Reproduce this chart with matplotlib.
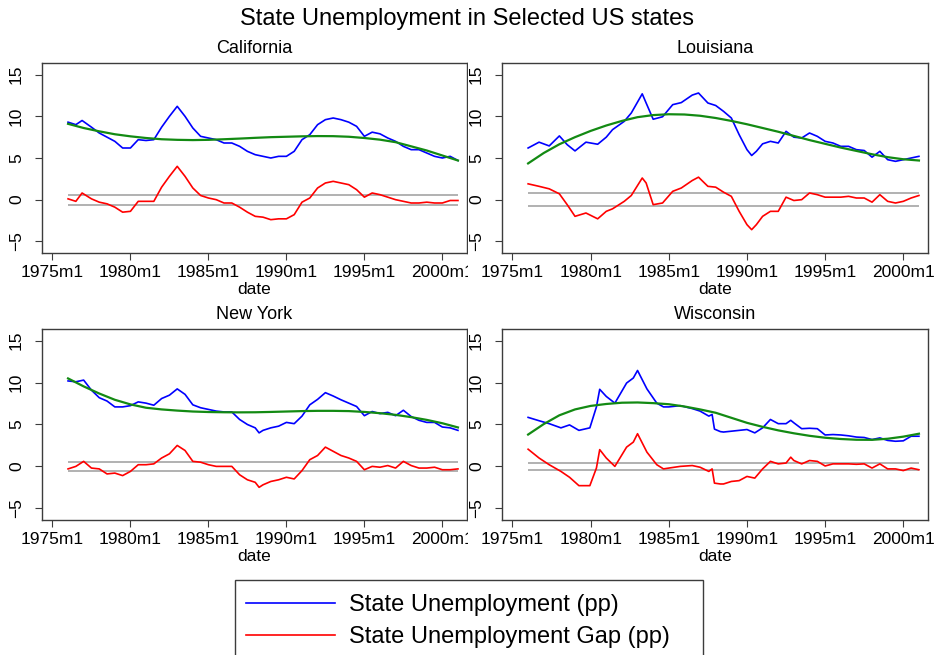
import matplotlib
matplotlib.use("Agg")
import matplotlib.pyplot as plt
from matplotlib.patches import Rectangle

plt.rcParams['font.family'] = ['Liberation Sans', 'DejaVu Sans']

# common axis things
tick_years = [1975, 1980, 1985, 1990, 1995, 2000]
tick_labels = ['1975m1', '1980m1', '1985m1', '1990m1', '1995m1', '2000m1']
trend_years = list(range(1976, 2002))

# California
ca_t = [1976, 1976.5, 1976.9, 1977.5, 1978, 1978.5, 1979, 1979.5, 1980, 1980.5,
        1981, 1981.5, 1982, 1982.5, 1983, 1983.5, 1984, 1984.5, 1985, 1985.5,
        1986, 1986.5, 1987, 1987.5, 1988, 1988.5, 1989, 1989.5, 1990, 1990.5,
        1991, 1991.5, 1992, 1992.5, 1993, 1993.5, 1994, 1994.5, 1995, 1995.5,
        1996, 1996.5, 1997, 1997.5, 1998, 1998.5, 1999, 1999.5, 2000, 2000.5, 2001]
ca_rate = [9.3, 9.0, 9.5, 8.7, 8.0, 7.5, 7.0, 6.2, 6.2, 7.2,
           7.1, 7.2, 8.7, 10.0, 11.2, 10.0, 8.6, 7.6, 7.4, 7.2,
           6.8, 6.8, 6.4, 5.8, 5.4, 5.2, 5.0, 5.2, 5.2, 5.8,
           7.2, 7.8, 9.0, 9.6, 9.8, 9.6, 9.3, 8.8, 7.6, 8.1,
           7.9, 7.4, 7.0, 6.4, 6.0, 6.0, 5.6, 5.2, 5.0, 5.2, 4.7]
ca_gap = [0.1, -0.2, 0.8, 0.1, -0.3, -0.5, -0.9, -1.5, -1.4, -0.2,
          -0.2, -0.2, 1.5, 2.8, 4.0, 2.8, 1.4, 0.5, 0.2, 0.0,
          -0.4, -0.4, -0.9, -1.5, -2.0, -2.1, -2.4, -2.3, -2.3, -1.8,
          -0.3, 0.2, 1.4, 2.0, 2.2, 2.0, 1.8, 1.2, 0.3, 0.8,
          0.6, 0.3, 0.0, -0.2, -0.4, -0.4, -0.3, -0.4, -0.4, -0.1, -0.1]
ca_trend = [9.1, 8.6, 8.2, 7.85, 7.6, 7.4, 7.25, 7.18, 7.15, 7.18, 7.25, 7.33, 7.42,
            7.5, 7.55, 7.6, 7.63, 7.62, 7.55, 7.4, 7.2, 6.9, 6.4, 5.9, 5.3, 4.7]
ca_band = 0.6

# Louisiana
la_t = [1976, 1976.7, 1977.35, 1978.0, 1978.5, 1979.0, 1979.7, 1980.45, 1981.0, 1981.4,
        1982.15, 1982.6, 1983.3, 1983.55, 1984.0, 1984.6, 1985.25, 1985.8, 1986.5, 1986.9,
        1987.5, 1988.0, 1988.5, 1989.0, 1989.5, 1990.0, 1990.3, 1990.6, 1991.0, 1991.5,
        1992.0, 1992.5, 1993.0, 1993.5, 1994.0, 1994.5, 1995.0, 1995.5, 1996.0, 1996.5,
        1997.0, 1997.5, 1998.0, 1998.5, 1999.0, 1999.5, 2000.0, 2000.5, 2001.0]
la_rate = [6.2, 6.9, 6.45, 7.65, 6.6, 5.85, 6.9, 6.65, 7.5, 8.4,
           9.4, 10.4, 12.7, 11.6, 9.65, 9.95, 11.4, 11.65, 12.55, 12.8,
           11.6, 11.3, 10.6, 9.8, 7.8, 6.0, 5.3, 5.8, 6.7, 7.0,
           6.8, 8.2, 7.5, 7.4, 8.0, 7.6, 7.0, 6.8, 6.4, 6.4,
           6.0, 5.9, 5.1, 5.8, 4.8, 4.6, 4.8, 5.0, 5.2]
la_gap = [1.9, 1.6, 1.3, 0.7, -0.6, -2.0, -1.6, -2.3, -1.4, -1.1,
          -0.2, 0.5, 2.6, 2.0, -0.6, -0.4, 1.0, 1.4, 2.3, 2.7,
          1.6, 1.5, 0.9, 0.4, -1.4, -3.0, -3.6, -3.0, -2.0, -1.4,
          -1.4, 0.3, -0.1, 0.0, 0.8, 0.6, 0.3, 0.3, 0.3, 0.4,
          0.2, 0.2, -0.3, 0.6, -0.2, -0.4, -0.2, 0.2, 0.5]
la_trend = [4.35, 5.6, 6.65, 7.5, 8.25, 8.9, 9.45, 9.9, 10.15, 10.25, 10.22, 10.07, 9.8,
            9.45, 9.05, 8.6, 8.15, 7.65, 7.15, 6.7, 6.25, 5.85, 5.45, 5.1, 4.85, 4.7]
la_band = 0.75

# New York
ny_t = [1976, 1976.5, 1977, 1977.5, 1978, 1978.5, 1979, 1979.5, 1980, 1980.5,
        1981, 1981.5, 1982, 1982.5, 1983, 1983.5, 1984, 1984.5, 1985, 1985.5,
        1986, 1986.5, 1987, 1987.5, 1988, 1988.25, 1988.5, 1989, 1989.5, 1990,
        1990.5, 1991, 1991.5, 1992, 1992.5, 1993, 1993.5, 1994, 1994.5, 1995,
        1995.5, 1996, 1996.5, 1997, 1997.5, 1998, 1998.5, 1999, 1999.5, 2000, 2000.5, 2001]
ny_rate = [10.2, 10.1, 10.3, 9.1, 8.2, 7.8, 7.1, 7.1, 7.25, 7.7,
           7.55, 7.3, 8.1, 8.5, 9.25, 8.6, 7.35, 7.0, 6.8, 6.6,
           6.5, 6.5, 5.6, 5.0, 4.6, 4.0, 4.3, 4.6, 4.8, 5.25,
           5.1, 6.0, 7.35, 8.0, 8.8, 8.4, 7.95, 7.55, 7.15, 6.05,
           6.55, 6.3, 6.45, 6.05, 6.7, 5.95, 5.5, 5.25, 5.25, 4.7, 4.6, 4.3]
ny_gap = [-0.3, 0.0, 0.6, -0.2, -0.3, -0.9, -0.8, -1.1, -0.6, 0.2,
          0.2, 0.3, 1.0, 1.5, 2.5, 1.9, 0.6, 0.5, 0.2, 0.0,
          0.0, 0.0, -1.0, -1.6, -1.9, -2.5, -2.2, -1.8, -1.6, -1.3,
          -1.5, -0.5, 0.8, 1.3, 2.3, 1.8, 1.3, 1.0, 0.6, -0.4,
          0.0, -0.1, 0.1, -0.2, 0.6, 0.1, -0.2, -0.2, -0.1, -0.4, -0.4, -0.3]
ny_trend = [10.5, 9.55, 8.7, 7.95, 7.4, 7.0, 6.8, 6.66, 6.55, 6.49, 6.46, 6.45, 6.46,
            6.5, 6.55, 6.6, 6.63, 6.63, 6.6, 6.5, 6.35, 6.15, 5.88, 5.55, 5.15, 4.65]
ny_band = 0.55

# Wisconsin
wi_t = [1976.0, 1976.7, 1977.35, 1978.1, 1978.65, 1979.25, 1979.95, 1980.37, 1980.58, 1981.0,
        1981.55, 1982.3, 1982.73, 1983.0, 1983.6, 1984.23, 1984.66, 1985.0, 1985.73, 1986.5,
        1987.0, 1987.56, 1987.77, 1987.92, 1988.3, 1988.5, 1989.0, 1989.5, 1990.0, 1990.5,
        1991.0, 1991.5, 1992.0, 1992.5, 1992.8, 1993.0, 1993.5, 1994.0, 1994.5, 1995.0,
        1995.5, 1996.0, 1996.5, 1997.0, 1997.5, 1998.0, 1998.5, 1999.0, 1999.5, 2000.0,
        2000.5, 2001.0]
wi_rate = [5.85, 5.45, 5.1, 4.6, 4.95, 4.3, 4.6, 7.1, 9.2, 8.35,
           7.55, 9.95, 10.55, 11.45, 9.25, 7.55, 7.1, 7.1, 7.25, 6.9,
           6.6, 6.0, 6.2, 4.45, 4.15, 4.1, 4.2, 4.3, 4.4, 4.0,
           4.6, 5.6, 5.1, 5.1, 5.5, 5.2, 4.5, 4.55, 4.5, 3.75,
           3.8, 3.75, 3.65, 3.5, 3.45, 3.2, 3.4, 3.1, 3.0, 3.05,
           3.6, 3.6]
wi_gap = [2.05, 1.0, 0.2, -0.6, -1.3, -2.3, -2.3, -0.2, 2.0, 1.0,
          0.0, 2.3, 2.9, 3.9, 1.7, 0.2, -0.3, -0.2, 0.0, 0.1,
          -0.1, -0.6, -0.3, -2.0, -2.1, -2.1, -1.8, -1.7, -1.2, -1.4,
          -0.3, 0.6, 0.3, 0.4, 1.1, 0.7, 0.3, 0.7, 0.6, 0.05,
          0.3, 0.3, 0.3, 0.25, 0.3, -0.2, 0.3, -0.3, -0.3, -0.5,
          -0.2, -0.4]
wi_trend = [3.8, 5.05, 6.1, 6.8, 7.22, 7.45, 7.6, 7.63, 7.55, 7.42, 7.15, 6.8, 6.4,
            5.8, 5.2, 4.72, 4.3, 3.95, 3.65, 3.42, 3.27, 3.18, 3.17, 3.3, 3.55, 3.9]
wi_band = 0.45

panels = [
    ('California', ca_t, ca_rate, ca_gap, ca_trend, ca_band, (42, 63, 467, 253)),
    ('Louisiana', la_t, la_rate, la_gap, la_trend, la_band, (502, 63, 928, 253)),
    ('New York', ny_t, ny_rate, ny_gap, ny_trend, ny_band, (42, 329, 467, 520)),
    ('Wisconsin', wi_t, wi_rate, wi_gap, wi_trend, wi_band, (502, 329, 928, 520)),
]

W, H = 935, 655
fig = plt.figure(figsize=(W / 100, H / 100), dpi=100)

def px_rect(l, t, r, b):
    return [l / W, 1 - b / H, (r - l) / W, (b - t) / H]

blue = '#0000ff'
red = '#ff0000'
green = '#138a13'
gray = '#ababab'
frame = '#3c3c3c'

# white cover so right panels clip the left ones like in the combined graph
fig.patches.append(Rectangle((468 / W, 1 - 575 / H), (W - 468) / W, 540 / H,
                             transform=fig.transFigure, facecolor='white',
                             edgecolor='none', zorder=0.5))

lines = None
for i, (name, t, rate, gap, trend, band, rect) in enumerate(panels):
    ax = fig.add_axes(px_rect(*rect))
    if i % 2 == 1:
        ax.set_zorder(1)
    ax.hlines([band, -band], t[0], t[-1], color=gray, lw=1.3)
    l1, = ax.plot(t, rate, color=blue, lw=1.2)
    l2, = ax.plot(t, gap, color=red, lw=1.2)
    ax.plot(trend_years, trend, color=green, lw=1.6)
    if lines is None:
        lines = [l1, l2]
    ax.set_xlim(1974.33, 2001.58)
    ax.set_ylim(-6.4, 16.4)
    ax.set_xticks(tick_years, tick_labels)
    ax.set_yticks([-5, 0, 5, 10, 15])
    ax.tick_params(axis='x', length=5, pad=4, labelsize=12.5, color=frame)
    ax.tick_params(axis='y', length=5, pad=8, labelsize=12.5, color=frame, labelrotation=90)
    for lab in ax.get_yticklabels():
        lab.set_va('center')
    for sp in ax.spines.values():
        sp.set_color(frame)
        sp.set_linewidth(1)
    ax.set_title(name, fontsize=13, pad=7)
    ax.set_xlabel('date', fontsize=12.5, labelpad=1)

fig.suptitle('State Unemployment in Selected US states', y=1 - 19 / H, va='center', fontsize=17)

fig.legend(lines, ['State Unemployment (pp)', 'State Unemployment Gap (pp)'],
           loc='upper left', bbox_to_anchor=(246 / W, 1 - 594 / H),
           frameon=False, borderpad=0, borderaxespad=0, fontsize=17,
           handlelength=3.75, handletextpad=0.62, labelspacing=0.42)
fig.patches.append(Rectangle((235 / W, -0.05), (703 - 235) / W, 0.05 + (H - 580) / H,
                             transform=fig.transFigure, fill=False,
                             edgecolor=frame, lw=1, zorder=3))

fig.savefig('out.png', dpi=100)
